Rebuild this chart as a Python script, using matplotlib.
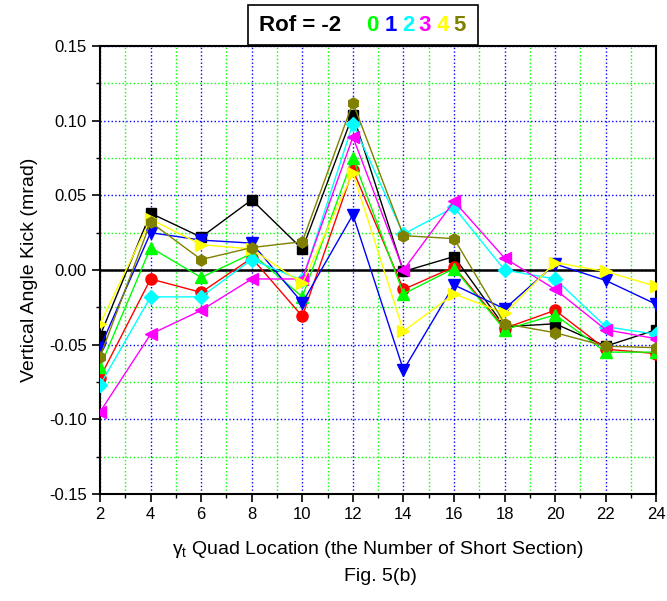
import numpy as np
import matplotlib
matplotlib.use('Agg')
import matplotlib.pyplot as plt
from matplotlib.patches import Rectangle
from matplotlib.ticker import MultipleLocator

plt.rcParams['font.family'] = ['Liberation Sans', 'DejaVu Sans']

# Quad locations (short section number)
location = [2, 4, 6, 8, 10, 12, 14, 16, 18, 20, 22, 24]

# Vertical angle kick (mrad), one list per Rof setting
kick_m2 = [-0.044, 0.038, 0.022, 0.047, 0.014, 0.104, -0.001, 0.009, -0.038, -0.036, -0.051, -0.040]
kick_m1 = [-0.072, -0.006, -0.015, 0.008, -0.031, 0.067, -0.013, 0.002, -0.039, -0.027, -0.053, -0.056]
kick_0 = [-0.065, 0.015, -0.005, 0.011, -0.018, 0.075, -0.016, 0.001, -0.040, -0.030, -0.055, -0.055]
kick_1 = [-0.052, 0.025, 0.020, 0.018, -0.022, 0.037, -0.067, -0.010, -0.026, 0.004, -0.007, -0.023]
kick_2 = [-0.077, -0.018, -0.018, 0.007, -0.007, 0.098, 0.024, 0.042, 0.000, -0.006, -0.038, -0.043]
kick_3 = [-0.095, -0.043, -0.027, -0.006, -0.006, 0.089, 0.000, 0.046, 0.008, -0.013, -0.040, -0.046]
kick_4 = [-0.036, 0.034, 0.017, 0.014, -0.009, 0.065, -0.041, -0.016, -0.029, 0.005, -0.001, -0.011]
kick_5 = [-0.058, 0.032, 0.007, 0.015, 0.019, 0.112, 0.023, 0.021, -0.036, -0.042, -0.051, -0.052]

series = [
    (kick_m2, 'black', 's', 7),
    (kick_m1, '#ff0000', 'o', 8),
    (kick_0, '#00ff00', '^', 8),
    (kick_1, '#0000ff', 'v', 8),
    (kick_2, '#00ffff', 'D', 7),
    (kick_3, '#ff00ff', '<', 8),
    (kick_4, '#ffff00', '>', 8),
    (kick_5, '#808000', 'h', 8),
]

fig = plt.figure(figsize=(6.67, 6.01), dpi=100)
ax = fig.add_axes([0.150, 0.178, 0.834, 0.7455])

for vals, col, mk, ms in series:
    ax.plot(location, vals, color=col, marker=mk, markersize=ms, linewidth=1,
            markeredgecolor=col, zorder=3)

ax.axhline(0, color='black', linewidth=1.8, zorder=2)

ax.set_xlim(2, 24)
ax.set_ylim(-0.15, 0.15)
ax.xaxis.set_major_locator(MultipleLocator(2))
ax.xaxis.set_minor_locator(MultipleLocator(1))
ax.yaxis.set_major_locator(MultipleLocator(0.05))
ax.yaxis.set_minor_locator(MultipleLocator(0.025))
ax.yaxis.set_major_formatter(matplotlib.ticker.FormatStrFormatter('%.2f'))

ax.grid(which='major', color='#0000ff', linestyle=':', linewidth=1)
ax.grid(which='minor', color='#00ff00', linestyle=':', linewidth=1)
ax.set_axisbelow(True)

ax.tick_params(which='major', direction='out', length=6, width=1.2, labelsize=12)
ax.tick_params(which='minor', direction='out', length=3, width=1)
for s in ax.spines.values():
    s.set_linewidth(1.5)

ax.set_ylabel('Vertical Angle Kick (mrad)', fontsize=14, labelpad=8)
ax.set_xlabel(r'$\mathregular{\gamma_t}$ Quad Location (the Number of Short Section)',
              fontsize=14, labelpad=12)
fig.text(0.57, 0.040, 'Fig. 5(b)', ha='center', va='center', fontsize=14)

# legend box at top
fig.patches.append(Rectangle((0.372, 0.925), 0.345, 0.067, transform=fig.transFigure,
                             facecolor='white', edgecolor='black', linewidth=1.2))
fig.text(0.389, 0.958, 'Rof = -2', fontsize=16, fontweight='bold', color='black',
         ha='left', va='center')
digit_labels = ['0', '1', '2', '3', '4', '5']
digit_colors = ['#00ff00', '#0000ff', '#00ffff', '#ff00ff', '#ffff00', '#808000']
digit_px = [372, 391, 408, 425, 443, 460]
for lab, col, px in zip(digit_labels, digit_colors, digit_px):
    fig.text(px / 667, 0.958, lab, fontsize=16, fontweight='bold', color=col,
             ha='center', va='center')

fig.savefig('out.png', dpi=100)
